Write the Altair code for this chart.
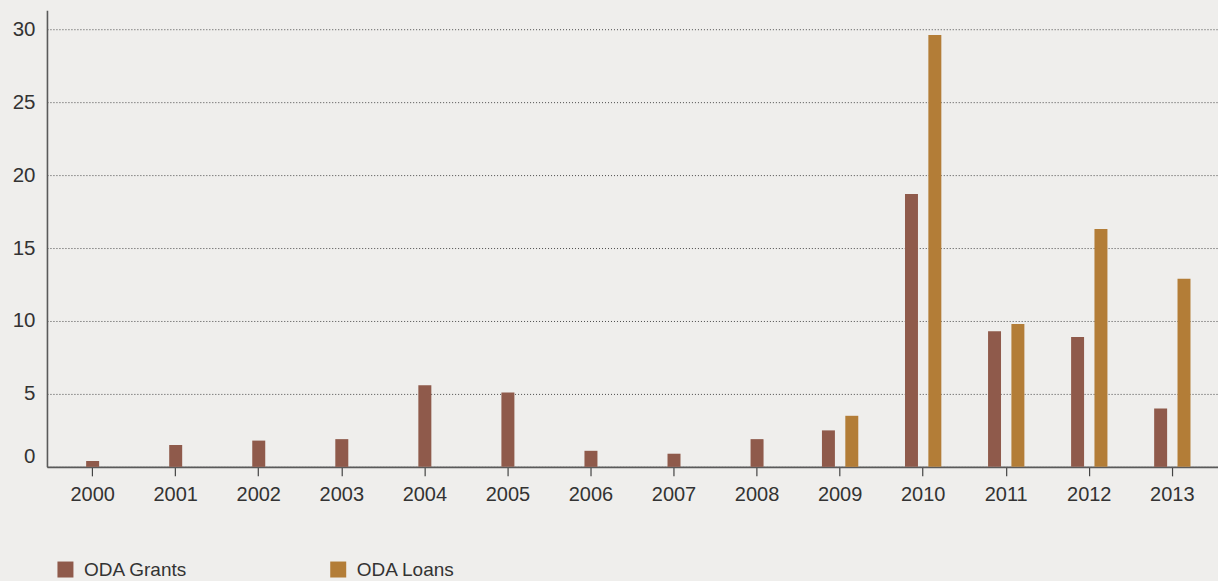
import altair as alt
import pandas as pd

years = ["2000", "2001", "2002", "2003", "2004", "2005", "2006",
         "2007", "2008", "2009", "2010", "2011", "2012", "2013"]
grants = [0.4, 1.5, 1.8, 1.9, 5.6, 5.1, 1.1, 0.9, 1.9, 2.5, 18.7, 9.3, 8.9, 4.0]
loans = [None, None, None, None, None, None, None, None, None, 3.5, 29.6, 9.8, 16.3, 12.9]

series = ["ODA Grants", "ODA Loans"]
colors = ["#8F5A4B", "#B37D37"]

rows = []
for y, g, l in zip(years, grants, loans):
    paired = l is not None
    rows.append({"year": y, "series": series[0], "value": g, "paired": paired})
    if paired:
        rows.append({"year": y, "series": series[1], "value": l, "paired": paired})
df = pd.DataFrame(rows)

text_color = "#333333"
font = "Liberation Sans"

x_enc = alt.X("year:N", sort=years, title=None,
              scale=alt.Scale(paddingInner=0, paddingOuter=0.05),
              axis=alt.Axis(labelAngle=0, labelFontSize=20, labelColor=text_color,
                            labelFont=font, tickSize=9, tickColor="#444444",
                            tickWidth=1.2, labelPadding=9, domainColor="#5a5a5a",
                            domainWidth=1.6, grid=False))
y_enc = alt.Y("value:Q", title=None,
              scale=alt.Scale(domain=[0, 31.3], nice=False, zero=True),
              axis=alt.Axis(values=[0, 5, 10, 15, 20, 25, 30], labelFontSize=20.5,
                            labelColor=text_color, labelFont=font, tickSize=0,
                            labelPadding=12, labelFlush=True, domainColor="#5a5a5a",
                            domainWidth=1.6, grid=True, gridColor="#4a4a4a",
                            gridDash=[1, 2], gridWidth=1))
color_enc = alt.Color("series:N",
                      scale=alt.Scale(domain=series, range=colors),
                      legend=alt.Legend(title=None, orient="none", direction="horizontal",
                                        legendX=9, legendY=550, symbolType="square",
                                        symbolSize=256, symbolStrokeWidth=0,
                                        labelFontSize=19, labelColor=text_color,
                                        labelFont=font, labelOffset=9,
                                        columnPadding=141, padding=0,
                                        symbolOpacity=1))

single = alt.Chart(df).transform_filter("!datum.paired").mark_bar(size=13).encode(
    x=x_enc, y=y_enc, color=color_enc)

paired = alt.Chart(df).transform_filter("datum.paired").mark_bar().encode(
    x=x_enc, y=y_enc, color=color_enc,
    xOffset=alt.XOffset("series:N", sort=series,
                        scale=alt.Scale(paddingInner=0.4448, paddingOuter=1)))

chart = alt.layer(single, paired).properties(
    width=1172, height=457,
    background="#EFEEEC",
    padding={"left": 47, "top": 10, "right": 0, "bottom": 114},
    autosize=alt.AutoSizeParams(type="none"),
).configure_view(stroke=None)

chart.save("out.html", embed_options={"renderer": "svg", "actions": False})
